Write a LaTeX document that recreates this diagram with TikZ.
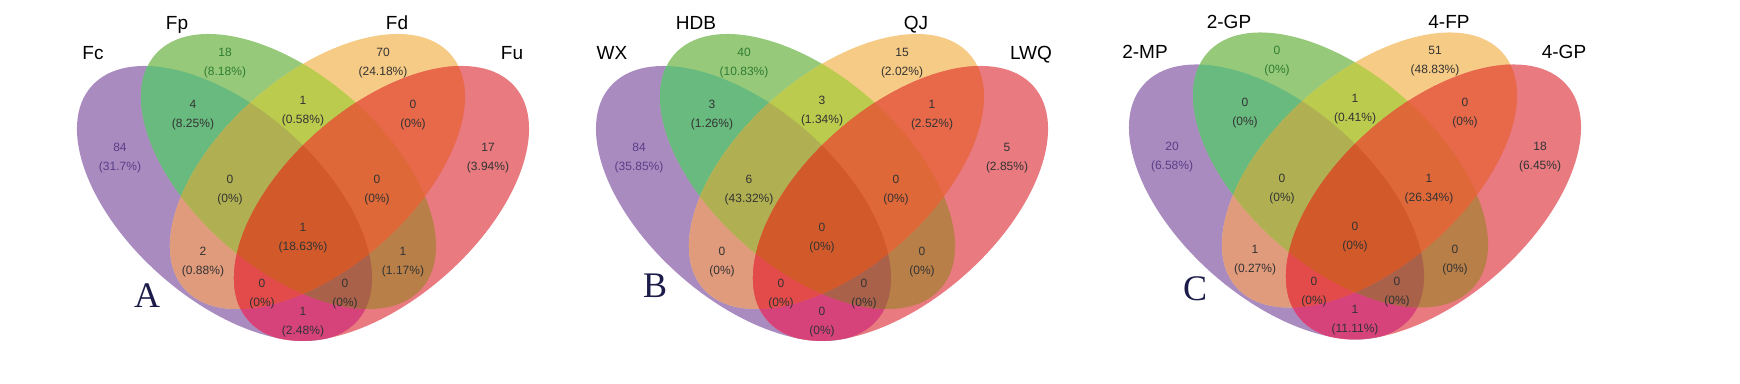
\documentclass[tikz,border=0pt]{standalone}
\usepackage{fontspec}
\setmainfont{Liberation Sans}
\newfontfamily\tnrfont{Liberation Serif}
\definecolor{cP}{HTML}{A98BC0}
\definecolor{cG}{HTML}{97C97A}
\definecolor{cO}{HTML}{F6CB85}
\definecolor{cR}{HTML}{E87A80}
\definecolor{cPG}{HTML}{68BA7E}
\definecolor{cGO}{HTML}{BACB4E}
\definecolor{cOR}{HTML}{E8684A}
\definecolor{cPO}{HTML}{E09A7C}
\definecolor{cGR}{HTML}{B88048}
\definecolor{cPR}{HTML}{D6437A}
\definecolor{cPGO}{HTML}{B0B052}
\definecolor{cGOR}{HTML}{DE6838}
\definecolor{cPGR}{HTML}{A9614A}
\definecolor{cPOR}{HTML}{E34A4A}
\definecolor{cPGOR}{HTML}{D25A2A}
\definecolor{tP}{HTML}{5A3E86}
\definecolor{tG}{HTML}{2E7D32}
\definecolor{tK}{HTML}{333333}
\definecolor{navy}{HTML}{1C1C4A}
\newcommand\RA{177.3}
\newcommand\RB{96.1}
\newcommand\vCl[1]{\clip[#1] (0,0) ellipse [x radius=\RA, y radius=\RB];}
\newcommand\vFl[2]{\fill[#1,fill=#2] (0,0) ellipse [x radius=\RA, y radius=\RB];}
\newcommand\vTwo[3]{\begin{scope}\vCl{#1}\vFl{#2}{#3}\end{scope}}
\newcommand\vThree[4]{\begin{scope}\vCl{#1}\vCl{#2}\vFl{#3}{#4}\end{scope}}
\newcommand\vFour[5]{\begin{scope}\vCl{#1}\vCl{#2}\vCl{#3}\vFl{#4}{#5}\end{scope}}
\newcommand\venn{%
  \vFl{eP}{cP}\vFl{eG}{cG}\vFl{eO}{cO}\vFl{eR}{cR}%
  \vTwo{eP}{eG}{cPG}\vTwo{eP}{eO}{cPO}\vTwo{eP}{eR}{cPR}%
  \vTwo{eG}{eO}{cGO}\vTwo{eG}{eR}{cGR}\vTwo{eO}{eR}{cOR}%
  \vThree{eP}{eG}{eO}{cPGO}\vThree{eP}{eG}{eR}{cPGR}%
  \vThree{eP}{eO}{eR}{cPOR}\vThree{eG}{eO}{eR}{cGOR}%
  \vFour{eP}{eG}{eO}{eR}{cPGOR}}
\tikzset{
  eP/.style={shift={(-78.5,180.5)},rotate=-41.3},
  eG/.style={shift={(-14.5,212.5)},rotate=-41.3},
  eO/.style={shift={(14.5,212.5)},rotate=41.3},
  eR/.style={shift={(78.5,180.5)},rotate=41.3},
  lbl/.style={font=\fontsize{6}{9.5}\selectfont, align=center, inner sep=0pt},
  setlbl/.style={font=\fontsize{9.5}{11}\selectfont, anchor=base, inner sep=0pt},
  panlbl/.style={font=\tnrfont\fontsize{18}{20}\selectfont, text=navy, anchor=base, inner sep=0pt}
}
\begin{document}
\begin{tikzpicture}[x=0.5pt,y=0.5pt]
\fill[white] (0,0) rectangle (1740,384);
\useasboundingbox (0,0) rectangle (1740,384);
% ---------- Panel A
\begin{scope}[shift={(303,0)}]
\venn
\foreach \k/\x/\y/\c/\a/\b in {P/-183/158.5/tP/84/31.7, G/-78/63/tG/18/8.18, O/80/63/tK/70/24.18, R/185/158.5/tK/17/3.94,
  PG/-110/115/tK/4/8.25, GO/0/111/tK/1/0.58, OR/110/115/tK/0/0, PGO/-73/190.5/tK/0/0, GOR/74/190.5/tK/0/0,
  PGOR/0/238.5/tK/1/18.63, PO/-100/262/tK/2/0.88, GR/100/262/tK/1/1.17, POR/-41/294/tK/0/0, PGR/42/294/tK/0/0, PR/0/322/tK/1/2.48}
  \node[lbl,text=\c] (A\k) at (\x,384-\y) {\a\\(\b\%)};
\node[setlbl] (Afc) at (-210,324) {Fc};
\node[setlbl] (Afp) at (-126,354) {Fp};
\node[setlbl] (Afd) at (94,354) {Fd};
\node[setlbl] (Afu) at (209,324) {Fu};
\node[panlbl] (Apanel) at (-156,76) {A};
\end{scope}
% ---------- Panel B
\begin{scope}[shift={(822,0)}]
\venn
\foreach \k/\x/\y/\c/\a/\b in {P/-183/158.5/tP/84/35.85, G/-78/63/tG/40/10.83, O/80/63/tK/15/2.02, R/185/158.5/tK/5/2.85,
  PG/-110/115/tK/3/1.26, GO/0/111/tK/3/1.34, OR/110/115/tK/1/2.52, PGO/-73/190.5/tK/6/43.32, GOR/74/190.5/tK/0/0,
  PGOR/0/238.5/tK/0/0, PO/-100/262/tK/0/0, GR/100/262/tK/0/0, POR/-41/294/tK/0/0, PGR/42/294/tK/0/0, PR/0/322/tK/0/0}
  \node[lbl,text=\c] (B\k) at (\x,384-\y) {\a\\(\b\%)};
\node[setlbl] (Bwx) at (-210,324) {WX};
\node[setlbl] (Bhdb) at (-126,354) {HDB};
\node[setlbl] (Bqj) at (94,354) {QJ};
\node[setlbl] (Blwq) at (209,324) {LWQ};
\node[panlbl] (Bpanel) at (-167,86) {B};
\end{scope}
% ---------- Panel C
\begin{scope}[shift={(1355,1.5)}]
\venn
\foreach \k/\x/\y/\c/\a/\b in {P/-183/158.5/tP/20/6.58, G/-78/63/tG/0/0, O/80/63/tK/51/48.83, R/185/158.5/tK/18/6.45,
  PG/-110/115/tK/0/0, GO/0/111/tK/1/0.41, OR/110/115/tK/0/0, PGO/-73/190.5/tK/0/0, GOR/74/190.5/tK/1/26.34,
  PGOR/0/238.5/tK/0/0, PO/-100/262/tK/1/0.27, GR/100/262/tK/0/0, POR/-41/294/tK/0/0, PGR/42/294/tK/0/0, PR/0/322/tK/1/11.11}
  \node[lbl,text=\c] (C\k) at (\x,384-\y) {\a\\(\b\%)};
\node[setlbl] (Cmp) at (-210,324) {2-MP};
\node[setlbl] (Cgp) at (-126,354) {2-GP};
\node[setlbl] (Cfp) at (94,354) {4-FP};
\node[setlbl] (Cgp4) at (209,324) {4-GP};
\node[panlbl] (Cpanel) at (-160,81.5) {C};
\end{scope}
\end{tikzpicture}
\end{document}
